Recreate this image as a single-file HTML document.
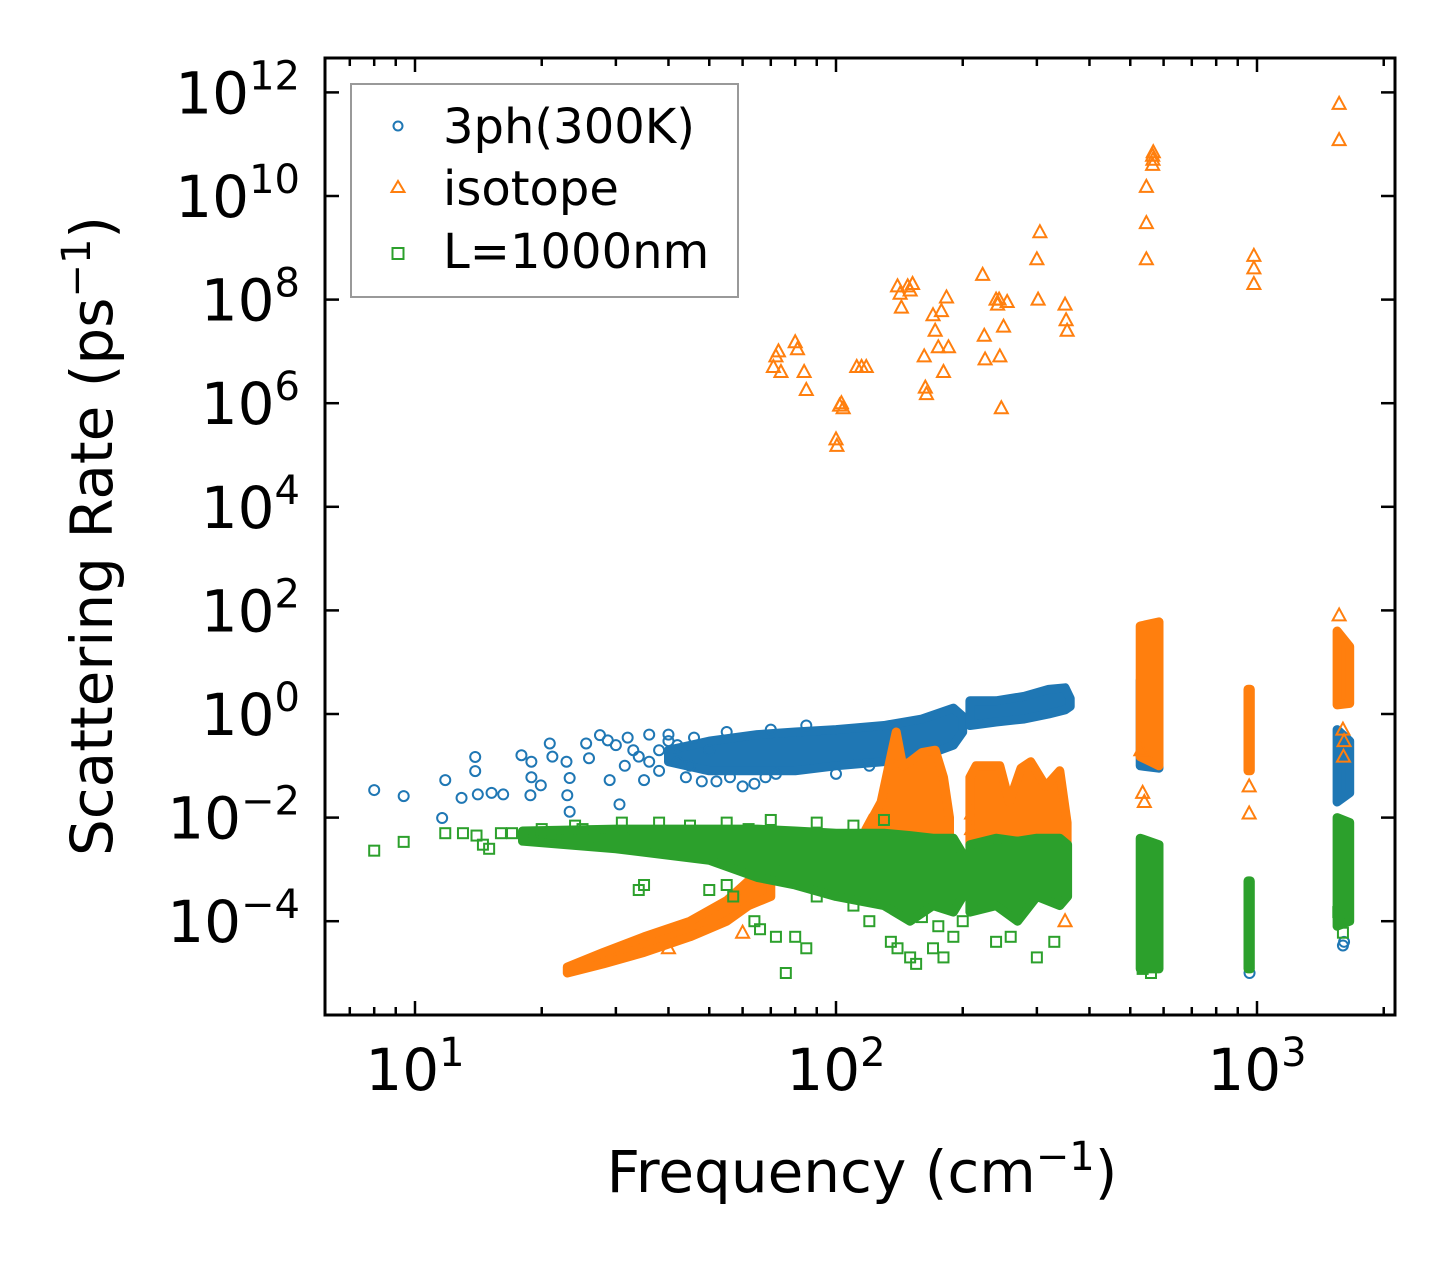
<!DOCTYPE html>
<html><head><meta charset="utf-8"><style>
html,body{margin:0;padding:0;background:#fff;}
svg{display:block;font-family:"DejaVu Sans","Liberation Sans",sans-serif;}
</style></head><body>
<svg id="chart" width="1455" height="1265" viewBox="0 0 1455 1265" xmlns="http://www.w3.org/2000/svg">
<rect x="0" y="0" width="1455" height="1265" fill="#fff"/>
<g id="marks"></g>
<g id="axes"></g>
<g>
<rect x="351" y="84" width="387" height="213" fill="#fff" fill-opacity="0.8" stroke="#999" stroke-width="2"/>
<circle cx="398" cy="126" r="4.5" fill="none" stroke="#1f77b4" stroke-width="2"/>
<text x="443" y="143" font-size="48">3ph(300K)</text>
<polygon points="398,181 404.5,192 391.5,192" fill="none" stroke="#ff7f0e" stroke-width="2"/>
<text x="443" y="205" font-size="48">isotope</text>
<rect x="392.5" y="248" width="11" height="11" fill="none" stroke="#2ca02c" stroke-width="2"/>
<text x="443" y="268" font-size="48">L=1000nm</text>
</g>
<text x="862" y="1192" font-size="58" text-anchor="middle">Frequency (cm<tspan dy="-22" font-size="40">−1</tspan><tspan dy="22">)</tspan></text>
<text transform="translate(112,536) rotate(-90)" font-size="58" text-anchor="middle">Scattering Rate (ps<tspan dy="-22" font-size="40">−1</tspan><tspan dy="22">)</tspan></text>
</svg>
<script>
// ---- data ----
const xTickExps = [1, 2, 3];
const yTickExps = [-4, -2, 0, 2, 4, 6, 8, 10, 12];
// 3ph(300K) scattered points [freq, rate]
const bluePoints = [[8.0,0.034],[9.4,0.026],[11.8,0.053],[11.6,0.0098],[13.9,0.148],[13.9,0.079],[12.9,0.024],[14.1,0.028],[15.2,0.03],[16.2,0.028],[17.9,0.16],[18.9,0.12],[18.9,0.06],[19.9,0.042],[18.8,0.027],[20.9,0.27],[21.2,0.15],[22.9,0.12],[23.3,0.058],[23,0.027],[23.3,0.013],[25.9,0.14],[27.5,0.39],[25.5,0.27],[28.7,0.31],[29,0.053],[30.6,0.018],[31.5,0.1],[33,0.2],[35,0.053],[30,0.25],[32,0.35],[34,0.15],[36,0.4],[38,0.08],[40,0.3],[42,0.12],[44,0.06],[46,0.35],[48,0.05],[52,0.05],[56,0.06],[60,0.04],[64,0.045],[68,0.06],[72,0.07],[40,0.4],[55,0.45],[70,0.5],[36,0.12],[38,0.2],[42,0.25],[45,0.1],[50,0.2],[85,0.6],[100,0.07],[120,0.1],[1600,3.4e-5],[1610,4e-5],[960,1e-5]];
// 3ph dense regions [freq, low, high]
const blueBands = [
 [[40,0.12,0.2],[50,0.08,0.3],[65,0.08,0.4],[80,0.08,0.45],[100,0.1,0.5],[130,0.12,0.6],[160,0.15,0.8],[190,0.25,1.3],[200,0.45,0.9]],
 [[208,0.6,1.8],[240,0.7,1.8],[280,0.8,2.2],[320,1,3],[350,1.2,3.2],[360,1.4,2]],
 [[528,0.1,4.5],[585,0.09,3]],
 [[1550,0.02,0.5],[1660,0.03,0.3]]
];
// isotope scattered points
const orangePoints = [[71,5e6],[72,8e6],[73,1e7],[74,4e6],[80,1.5e7],[81,1.1e7],[84,4e6],[85,1.8e6],[100,2e5],[100.5,1.5e5],[102,9e5],[103,1e6],[104,8e5],[112,5e6],[115,5e6],[118,5e6],[140,1.8e8],[142,1.3e8],[143,7e7],[148,1.8e8],[150,1.5e8],[152,2e8],[162,8e6],[163,2e6],[164,1.5e6],[170,5e7],[172,2.5e7],[175,1.2e7],[178,6e7],[180,4e6],[183,1.1e8],[185,1.2e7],[223,3e8],[225,2e7],[226,7e6],[240,1e8],[242,8e7],[244,1e8],[245,8e6],[247,8e5],[250,3e7],[255,9e7],[300,6e8],[302,1e8],[305,2e9],[350,8e7],[352,4e7],[354,2.5e7],[546,1.5e10],[546,3e9],[546,6e8],[565,6e10],[565,4e10],[567,7e10],[566,5e10],[983,7e8],[983,4e8],[983,2e8],[1567,6e11],[1567,1.2e11],[535,0.03],[540,0.02],[530,0.2],[958,0.04],[958,0.012],[1567,80],[1600,0.5],[1610,0.3],[1605,0.15],[120,0.008],[210,0.012],[210,0.006],[40,3e-5],[60,6e-5],[350,1e-4]];
// isotope dense regions
const orangeBands = [
 [[23,1e-5,1.3e-5],[28,1.5e-5,2.5e-5],[35,2.5e-5,5e-5],[45,5e-5,1e-4],[55,1e-4,2.5e-4],[62,2e-4,6e-4],[70,3e-4,1.5e-3]],
 [[118,3e-3,6e-3],[128,3e-3,0.02],[136,3e-3,0.2],[139,3e-3,0.45],[144,3e-3,0.1],[150,3e-3,0.12],[160,3e-3,0.18],[172,3e-3,0.2],[180,3e-3,0.06],[186,3e-3,0.01]],
 [[208,3e-3,0.06],[215,3e-3,0.1],[232,3e-3,0.1],[245,3e-3,0.1],[258,3e-3,0.02],[275,3e-3,0.09],[290,3e-3,0.12],[315,3e-3,0.04],[340,3e-3,0.08],[354,3e-3,0.008]],
 [[528,0.15,50],[585,0.1,60]],
 [[952,0.08,3],[964,0.08,3]],
 [[1550,1.5,40],[1660,1.6,20]]
];
// L=1000nm scattered points
const greenPoints = [[8.0,2.3e-3],[9.4,3.4e-3],[11.8,5e-3],[13,5e-3],[14,4.5e-3],[14.5,3e-3],[15,2.5e-3],[16,5e-3],[17,5e-3],[19,4e-3],[21,4.5e-3],[23,5e-3],[25,6e-3],[27,5e-3],[29,5e-3],[31,8e-3],[33,4e-3],[34,4e-4],[35,5e-4],[50,4e-4],[55,5e-4],[57,3e-4],[62,6e-3],[64,1e-4],[66,7e-5],[72,5e-5],[76,1e-5],[80,5e-5],[85,3e-5],[135,4e-5],[140,3e-5],[150,2e-5],[155,1.5e-5],[170,3e-5],[180,2e-5],[190,5e-5],[240,4e-5],[300,2e-5],[535,1.2e-5],[560,1e-5],[20,6e-3],[24,7e-3],[38,8e-3],[45,7e-3],[55,8e-3],[70,9e-3],[90,8e-3],[110,7e-3],[130,9e-3],[60,2e-3],[75,1e-3],[90,3e-4],[110,2e-4],[120,1e-4],[160,1.2e-4],[175,8e-5],[200,1e-4],[260,5e-5],[330,4e-5],[1600,6e-5],[1560,1.5e-4]];
// L=1000nm dense regions
const greenBands = [
 [[18,3.5e-3,5.5e-3],[30,2.5e-3,6e-3],[50,1.5e-3,6e-3],[65,7e-4,6e-3],[80,5e-4,5.5e-3],[100,3e-4,5e-3],[130,2e-4,5e-3],[150,1e-4,4.5e-3],[170,2e-4,4e-3],[190,1.5e-4,4e-3],[200,3e-4,2e-3]],
 [[208,1.5e-4,3e-3],[240,2e-4,4e-3],[270,1e-4,3.5e-3],[300,3e-4,4e-3],[340,2e-4,4e-3],[355,3e-4,3e-3]],
 [[528,1.2e-5,4e-3],[585,1.2e-5,3e-3]],
 [[952,1.2e-5,6e-4],[964,1.2e-5,6e-4]],
 [[1550,8e-5,0.01],[1660,1e-4,0.008]]
];

// ---- axes functions ----
const L=325,R=1395,T=58,B=1015;
function px(f){return 415+421*(Math.log10(f)-1);}
function py(r){return 714-51.8*Math.log10(r);}
const NS='http://www.w3.org/2000/svg';
function mk(tag,attrs,parent){const e=document.createElementNS(NS,tag);for(const k in attrs)e.setAttribute(k,attrs[k]);parent.appendChild(e);return e;}
const marks=document.getElementById('marks');
const axes=document.getElementById('axes');

function drawBands(bands,color,name){
  bands.forEach((band,i)=>{
    const up=band.map(d=>px(d[0]).toFixed(1)+','+py(d[2]).toFixed(1));
    const lo=band.slice().reverse().map(d=>px(d[0]).toFixed(1)+','+py(d[1]).toFixed(1));
    const p=mk('polygon',{points:up.concat(lo).join(' '),fill:color,stroke:color,'stroke-width':9,'stroke-linejoin':'round'},marks);
    
    
  });
}
function drawPoints(pts,shape,color,name){
  pts.forEach(d=>{
    const x=px(d[0]),y=py(d[1]);let e;
    if(shape==='circle') e=mk('circle',{cx:x,cy:y,r:5,fill:'none',stroke:color,'stroke-width':2},marks);
    else if(shape==='tri') e=mk('polygon',{points:`${x},${y-7} ${x+6.5},${y+5} ${x-6.5},${y+5}`,fill:'none',stroke:color,'stroke-width':2},marks);
    else e=mk('rect',{x:x-5,y:y-5,width:10,height:10,fill:'none',stroke:color,'stroke-width':2},marks);
    
    
  });
}
drawBands(blueBands,'#1f77b4','3ph');
drawPoints(bluePoints,'circle','#1f77b4','3ph');
drawBands(orangeBands,'#ff7f0e','isotope');
drawPoints(orangePoints,'tri','#ff7f0e','isotope');
drawBands(greenBands,'#2ca02c','l1000nm');
drawPoints(greenPoints,'square','#2ca02c','l1000nm');

// frame
const fr=mk('rect',{x:L,y:T,width:R-L,height:B-T,fill:'none',stroke:'#000','stroke-width':3},axes);


// x ticks
for(let e=0;e<=3;e++){for(let m=1;m<10;m++){const f=m*Math.pow(10,e);const x=px(f);if(x<L+2||x>R-2)continue;
  const len=m===1?14:8;
  const t1=mk('line',{x1:x,y1:B,x2:x,y2:B-len,stroke:'#000','stroke-width':2.5},axes);
  
  
  const t2=mk('line',{x1:x,y1:T,x2:x,y2:T+len,stroke:'#000','stroke-width':2.5},axes);
  
  
}}
xTickExps.forEach(e=>{const x=px(Math.pow(10,e));
  const t=mk('text',{x:x,y:1090,'font-size':58,'text-anchor':'middle'},axes);
  
  
  const b=mk('tspan',{},t);b.textContent='10';
  const s=mk('tspan',{dy:-24,'font-size':40},t);s.textContent=String(e);
});
yTickExps.forEach(e=>{const y=py(Math.pow(10,e));
  const a=mk('line',{x1:L,y1:y,x2:L+14,y2:y,stroke:'#000','stroke-width':2.5},axes);
  
  
  const b=mk('line',{x1:R,y1:y,x2:R-14,y2:y,stroke:'#000','stroke-width':2.5},axes);
  
  
  const t=mk('text',{x:300,y:y+21,'font-size':58,'text-anchor':'end'},axes);
  
  
  const base=mk('tspan',{},t);base.textContent='10';
  const s=mk('tspan',{dy:-24,'font-size':40},t);s.textContent=(e<0?'−':'')+Math.abs(e);
});
</script>
</body></html>
